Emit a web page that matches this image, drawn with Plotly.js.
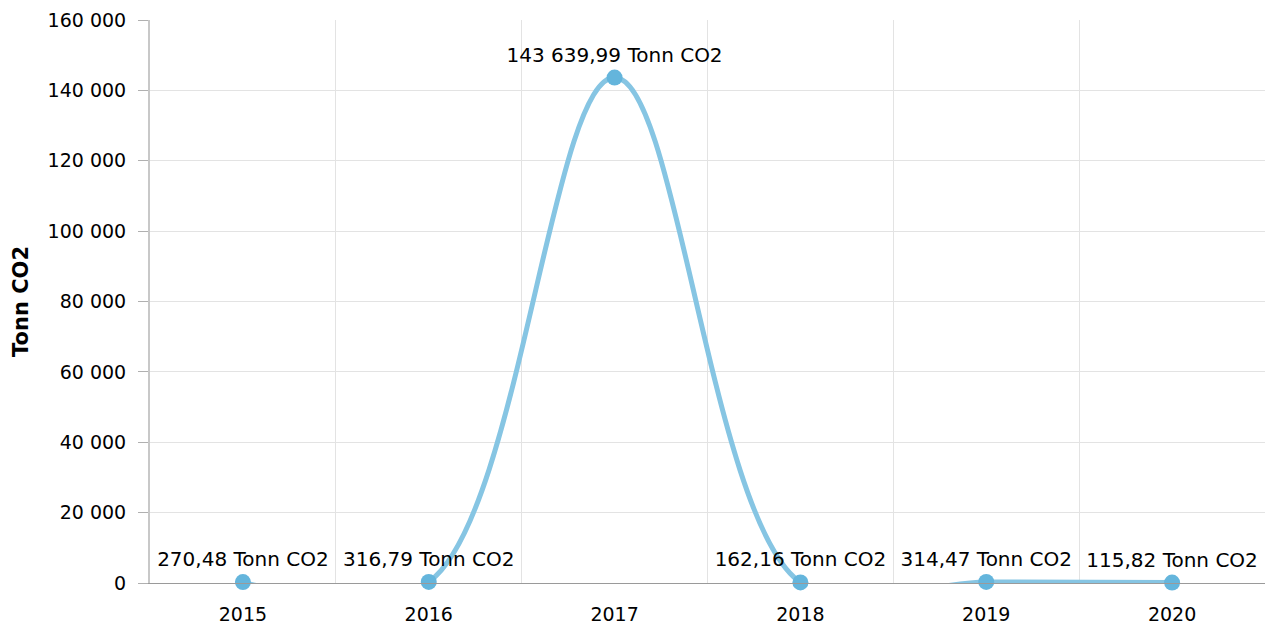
<!DOCTYPE html>
<html>
<head>
<meta charset="utf-8">
<script src="https://cdn.plot.ly/plotly-3.0.1.min.js"></script>
<style>html,body{margin:0;padding:0;background:#fff;}#chart{width:1267px;height:626px;}</style>
</head>
<body>
<div id="chart"></div>
<script>
var years = ["2015", "2016", "2017", "2018", "2019", "2020"];
var tonnCO2 = [270.48, 316.79, 143639.99, 162.16, 314.47, 115.82];
var unitLabel = "Tonn CO2";
var yTitle = "Tonn CO2";

var FONT = "DejaVu Sans, Verdana, sans-serif";

var trace = {
  type: "scatter",
  mode: "lines+markers+text",
  x: years,
  y: tonnCO2,
  line: {shape: "spline", smoothing: 1, color: "#86c5e3", width: 5},
  marker: {size: 16, color: "#64b5dc"},
  texttemplate: "%{y:,.2f} " + unitLabel,
  textposition: "top center",
  textfont: {family: FONT, size: 20, color: "#000"},
  cliponaxis: false,
  hoverinfo: "x+y"
};

var layout = {
  width: 1267, height: 626,
  margin: {l: 150, r: 2, t: 20, b: 43},
  paper_bgcolor: "#fff", plot_bgcolor: "#fff",
  separators: ", ",
  showlegend: false,
  font: {family: FONT, size: 19, color: "#000"},
  xaxis: {
    type: "category",
    range: [-0.5, 5.5],
    tickson: "boundaries",
    showgrid: true, gridcolor: "#e3e3e3", gridwidth: 1,
    ticks: "",
    showline: true, linecolor: "#9a9a9a", linewidth: 1,
    zeroline: false,
    ticklabelstandoff: 14,
    tickfont: {family: FONT, size: 19, color: "#000"}
  },
  yaxis: {
    range: [0, 160000],
    dtick: 20000,
    tick0: 0,
    showgrid: true, gridcolor: "#e3e3e3", gridwidth: 1,
    zeroline: false,
    showline: true, linecolor: "#c8c8c8", linewidth: 2,
    ticks: "outside", ticklen: 10, tickcolor: "#b0b0b0", tickwidth: 1,
    ticklabelstandoff: 8,
    tickformat: ",d",
    tickfont: {family: FONT, size: 19, color: "#000"},
    automargin: false,
    title: {text: yTitle, font: {family: FONT, size: 21, color: "#000", weight: "bold"}, standoff: 13}
  }
};

Plotly.newPlot("chart", [trace], layout, {displayModeBar: false, staticPlot: true});
</script>
</body>
</html>
